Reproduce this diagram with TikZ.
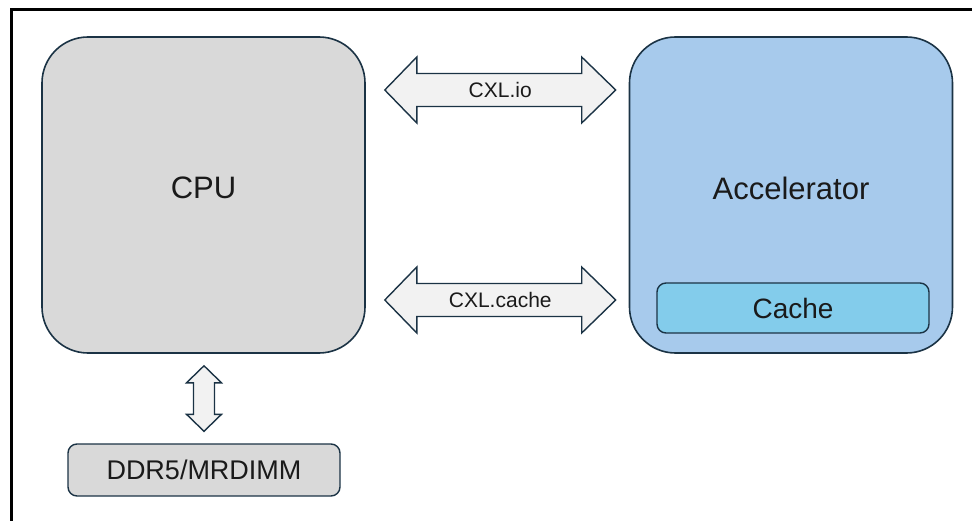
\documentclass[tikz,border=0pt]{standalone}
\usepackage{fontspec}
\setmainfont{Liberation Sans}
\usetikzlibrary{calc}
\definecolor{edgeblue}{HTML}{1B3345}
\definecolor{cpugray}{HTML}{D9D9D9}
\definecolor{accblue}{HTML}{A7CAEC}
\definecolor{cacheblue}{HTML}{83CCEB}
\definecolor{pipegray}{HTML}{F2F2F2}
\definecolor{inkblack}{HTML}{1A1A1A}
\tikzset{
  chip/.style={draw=edgeblue,line width=1.6pt,rounded corners=46pt,inner sep=0pt,
    minimum width=323pt,minimum height=316pt,text=inkblack,
    font=\fontsize{31}{36}\selectfont,text depth=14pt},
  slab/.style={draw=edgeblue,line width=1.4pt,rounded corners=9pt,inner sep=0pt,
    minimum width=272pt,text=inkblack},
  pipe/.style={draw=edgeblue,line width=1.4pt,fill=pipegray,line join=miter},
  pipelabel/.style={text=inkblack,font=\fontsize{21}{25}\selectfont,inner sep=0pt}
}
\begin{document}
\begin{tikzpicture}[x=1pt,y=-1pt]
            \useasboundingbox (0,0) rectangle (972,521);
            \draw [line width=3pt] (11,521) -- (11,9.5) -- (972,9.5);

            \draw (203.5,195) node (cpu) [chip,fill=cpugray] {CPU};
            \draw (791,195) node (acc) [chip,fill=accblue] {Accelerator};
            \draw (793,308) node (cache) [slab,fill=cacheblue,minimum height=50pt,font=\fontsize{28}{32}\selectfont] {Cache};
            \draw (204,470) node (ddr) [slab,fill=cpugray,minimum height=52pt,font=\fontsize{27}{31}\selectfont] {DDR5/MRDIMM};

            \coordinate (io-l) at ($(cpu.east)+(19,-105)$);
            \coordinate (io-r) at ($(acc.west)+(-13,-105)$);
            \coordinate (ca-l) at ($(cpu.east)+(19,105)$);
            \coordinate (ca-r) at ($(acc.west)+(-13,105)$);
            \coordinate (mem-t) at ($(cpu.south)+(0.5,12)$);
            \coordinate (mem-b) at ($(ddr.north)+(0,-12)$);

            \draw [pipe] (io-l) -- ++(32,-33) -- ++(0,16.5) -- ($(io-r)+(-34,-16.5)$) -- ++(0,-16.5) -- (io-r)
                -- ++(-34,33) -- ++(0,-16.5) -- ($(io-l)+(32,16.5)$) -- ++(0,16.5) -- cycle;
            \draw [pipe] (ca-l) -- ++(32,-33) -- ++(0,16.5) -- ($(ca-r)+(-34,-16.5)$) -- ++(0,-16.5) -- (ca-r)
                -- ++(-34,33) -- ++(0,-16.5) -- ($(ca-l)+(32,16.5)$) -- ++(0,16.5) -- cycle;
            \draw [pipe] (mem-t) -- ++(17.5,17) -- ++(-7,0) -- ($(mem-b)+(10.5,-17)$) -- ++(7,0) -- (mem-b)
                -- ++(-17.5,-17) -- ++(7,0) -- ($(mem-t)+(-10.5,17)$) -- ++(-7,0) -- cycle;

            \node (io) [pipelabel] at ($(io-l)!0.5!(io-r)$) {CXL.io};
            \node (ca) [pipelabel] at ($(ca-l)!0.5!(ca-r)$) {CXL.cache};
        \end{tikzpicture}
\end{document}
